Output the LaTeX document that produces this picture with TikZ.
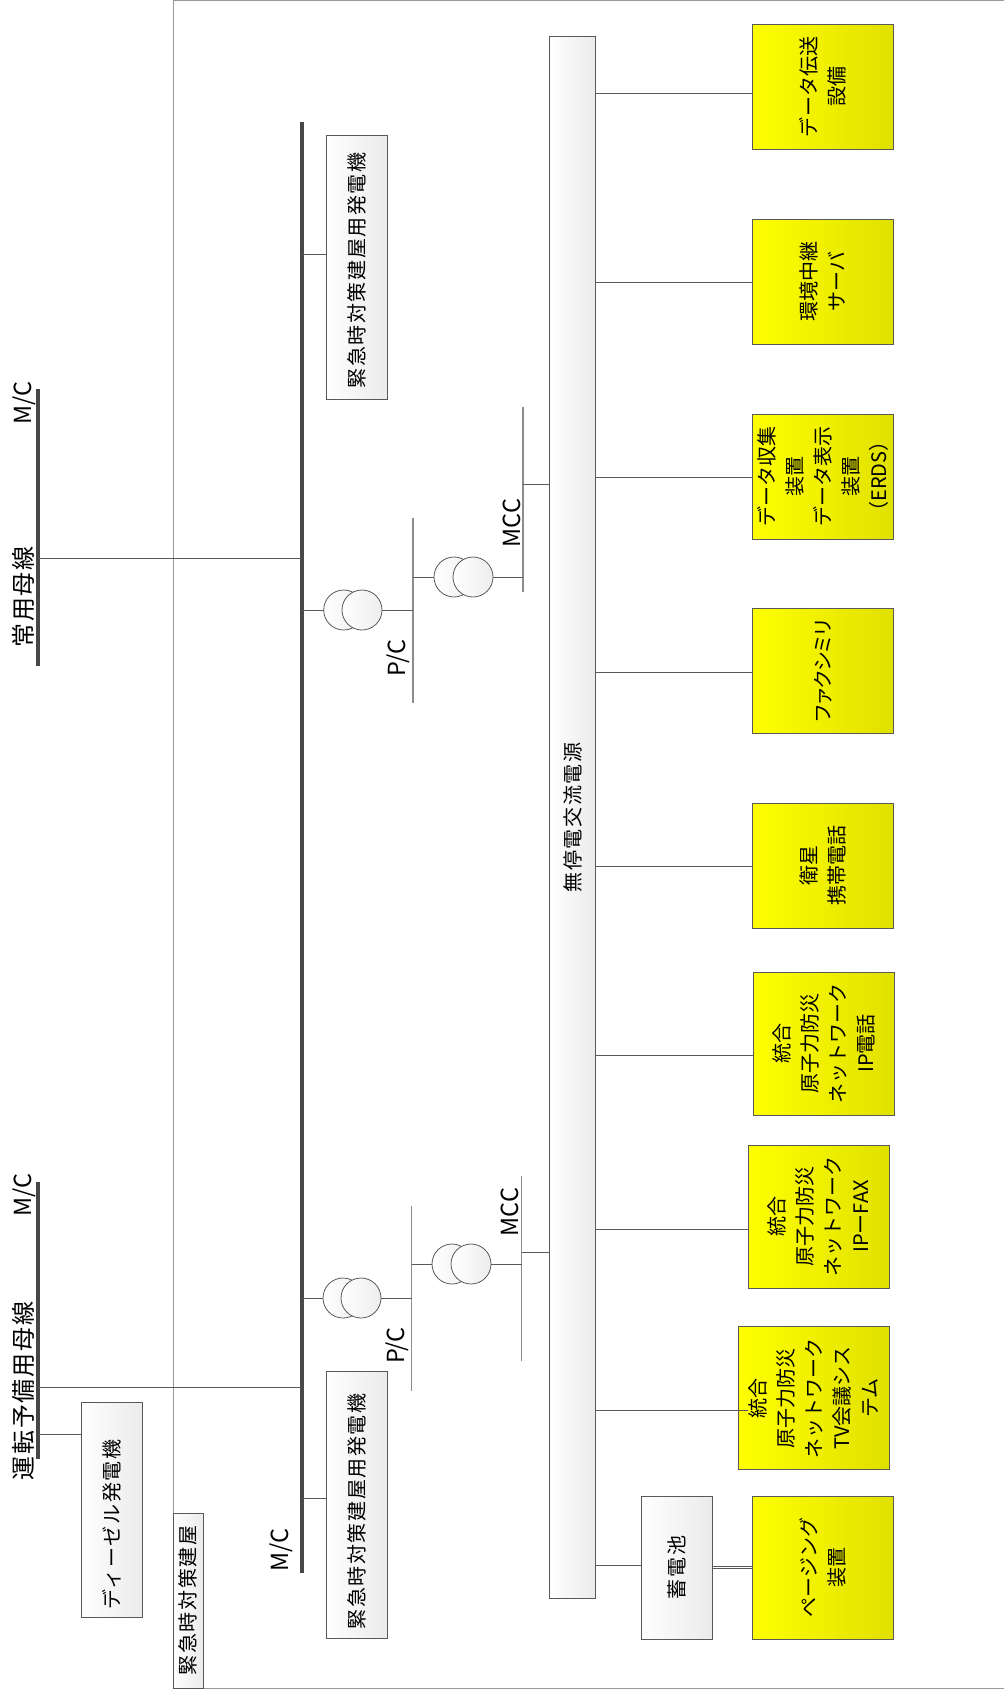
\documentclass[tikz,border=0pt]{standalone}
\usepackage{fontspec}
\setmainfont{Noto Sans CJK JP}
\newfontfamily\spacedcjk[LetterSpace=8]{Noto Sans CJK JP}
\newfontfamily\tightcjk[LetterSpace=-14]{Noto Sans CJK JP}
\tikzset{
	wire/.style={draw=black!65, line width=1pt},
	busbar/.style={fill=black!72, inner sep=0pt, outer sep=0pt, minimum width=3.4pt},
	subbar/.style={fill=black!45, inner sep=0pt, outer sep=0pt, minimum width=1.4pt},
	whitebox/.style={draw=black!65, line width=1pt, rotate=90, left color=white, right color=black!8, inner sep=0pt, outer sep=0pt, align=center, font=\spacedcjk\fontsize{20}{28}\selectfont},
	yellowbox/.style={draw=black!65, line width=1pt, rotate=90, left color=yellow, right color=yellow!88!black, inner sep=0pt, outer sep=0pt, align=center, font=\fontsize{20}{28}\selectfont},
	coil/.style={draw=black!65, circle, line width=0.8pt, minimum size=40pt, inner sep=0pt, outer sep=0pt, left color=white, right color=black!7},
	buslabel/.style={rotate=90, inner sep=0pt, font=\fontsize{23.5}{26}\selectfont},
	busname/.style={rotate=90, inner sep=0pt, font=\spacedcjk\fontsize{24}{26}\selectfont}
}
\begin{document}
\begin{tikzpicture}[x=1pt, y=-1pt]
	\useasboundingbox (0,0) rectangle (1004,1691);
	% building outline
	\draw[draw=black!40, line width=1pt] (1004,0.5) -- (173,0.5) -- (173,1688.5) -- (1004,1688.5);
	\node[whitebox, minimum width=175pt, minimum height=30pt] (bldg) at (188,1600.5) {緊急時対策建屋};

	% incoming buses
	\node[busbar, minimum height=277pt] (normbus) at (38,527.5) {};
	\node[busbar, minimum height=277pt] (sparebus) at (38,1320) {};
	\node[busname] (normname) at (23,597) {常用母線};
	\node[busname] (sparename) at (23,1391) {運転予備用母線};
	\node[buslabel] (normmc) at (24,403) {M/C};
	\node[buslabel] (sparemc) at (24,1195) {M/C};
	\node[whitebox, minimum width=215pt, minimum height=61pt] (diesel) at (112,1509.5) {ディーゼル発電機\hspace*{30pt}};

	% main bus
	\node[busbar, minimum height=1451pt] (mainbus) at (302,847.5) {};
	\node[buslabel] (mainmc) at (281,1550) {M/C};
	\node[whitebox, minimum width=263pt, minimum height=61pt] (genup) at (356.5,267.5) {緊急時対策建屋用発電機\hspace*{6pt}};
	\node[whitebox, minimum width=267pt, minimum height=61pt] (genlow) at (356.5,1505) {緊急時対策建屋用発電機\hspace*{13pt}};

	% upper feeder
	\node[coil] (tupa) at (343.7,610) {};
	\node[coil] (tupb) at (362,610) {};
	\node[subbar, minimum height=185pt] (pcup) at (413,610.5) {};
	\node[buslabel] (pcuplabel) at (398,658) {P/C};
	\node[coil] (tupc) at (454,577) {};
	\node[coil] (tupd) at (473,577) {};
	\node[subbar, minimum height=185pt] (mccup) at (523,499.5) {};
	\node[buslabel] (mccuplabel) at (512,523) {MCC};

	% lower feeder
	\node[coil] (tlowa) at (343,1298) {};
	\node[coil] (tlowb) at (361,1298) {};
	\node[subbar, minimum height=185pt] (pclow) at (411.5,1298.5) {};
	\node[buslabel] (pclowlabel) at (397,1345.5) {P/C};
	\node[coil] (tlowc) at (452,1264) {};
	\node[coil] (tlowd) at (471,1264) {};
	\node[subbar, minimum height=185pt] (mcclow) at (521.5,1268) {};
	\node[buslabel] (mcclowlabel) at (510,1212) {MCC};

	% UPS and battery
	\node[whitebox, minimum width=1561pt, minimum height=46pt] (ups) at (572.5,817.5) {無停電交流電源};
	\node[whitebox, minimum width=143pt, minimum height=71pt] (battery) at (676.5,1567.5) {蓄電池};

	% loads
	\node[yellowbox, minimum width=125pt, minimum height=141pt] (datatx) at (823,87) {データ伝送\\設備};
	\node[yellowbox, minimum width=125pt, minimum height=141pt] (envsrv) at (823,281.5) {環境中継\\サーバ};
	\node[yellowbox, minimum width=125pt, minimum height=141pt] (erds) at (823,476.5) {データ収集\\装置\\データ表示\\装置\\（ERDS）};
	\node[yellowbox, minimum width=125pt, minimum height=141pt] (fax) at (823,670.5) {\tightcjk ファクシミリ};
	\node[yellowbox, minimum width=125pt, minimum height=141pt] (satphone) at (823,865.5) {衛星\\携帯電話};
	\node[yellowbox, minimum width=143pt, minimum height=141pt] (ipphone) at (824,1043.5) {統合\\原子力防災\\ネットワーク\\IP電話};
	\node[yellowbox, minimum width=143pt, minimum height=141pt] (ipfax) at (818.5,1216.5) {統合\\原子力防災\\ネットワーク\\IPーFAX};
	\node[yellowbox, minimum width=143pt, minimum height=151pt] (tvconf) at (813.5,1398) {統合\\原子力防災\\ネットワーク\\TV会議シス\\テム};
	\node[yellowbox, minimum width=143pt, minimum height=141pt] (paging) at (823,1567.5) {ページング\\装置};

	% connectors
	\draw[wire] (normbus |- 0,558) -- (mainbus |- 0,558);
	\draw[wire] (sparebus |- 0,1387) -- (mainbus |- 0,1387);
	\draw[wire] (sparebus |- 0,1434) -- (diesel.north |- 0,1434);
	\draw[wire] (mainbus |- 0,254.5) -- (genup.north |- 0,254.5);
	\draw[wire] (mainbus |- 0,1498) -- (genlow.north |- 0,1498);
	\draw[wire] (mainbus |- tupa) -- (tupa.west);
	\draw[wire] (tupb.east) -- (pcup |- tupb);
	\draw[wire] (pcup |- tupc) -- (tupc.west);
	\draw[wire] (tupd.east) -- (mccup |- tupd);
	\draw[wire] (mccup |- 0,484) -- (ups.north |- 0,484);
	\draw[wire] (mainbus |- tlowa) -- (tlowa.west);
	\draw[wire] (tlowb.east) -- (pclow |- tlowb);
	\draw[wire] (pclow |- tlowc) -- (tlowc.west);
	\draw[wire] (tlowd.east) -- (mcclow |- tlowd);
	\draw[wire] (mcclow |- 0,1252.5) -- (ups.north |- 0,1252.5);
	\draw[wire] (ups.south |- 0,93.5) -- (datatx.north |- 0,93.5);
	\draw[wire] (ups.south |- 0,282.5) -- (envsrv.north |- 0,282.5);
	\draw[wire] (ups.south |- 0,477.5) -- (erds.north |- 0,477.5);
	\draw[wire] (ups.south |- 0,672) -- (fax.north |- 0,672);
	\draw[wire] (ups.south |- 0,866.5) -- (satphone.north |- 0,866.5);
	\draw[wire] (ups.south |- 0,1055.5) -- (ipphone.north |- 0,1055.5);
	\draw[wire] (ups.south |- 0,1229) -- (ipfax.north |- 0,1229);
	\draw[wire] (ups.south |- 0,1410) -- ([xshift=10pt]tvconf.north |- 0,1410);
	\draw[wire] (ups.south |- 0,1565) -- (battery.north |- 0,1565);
	\draw[wire] (battery.south |- 0,1566) -- (paging.north |- 0,1566);
	\draw[wire] (battery.south |- 0,1568.5) -- (paging.north |- 0,1568.5);
\end{tikzpicture}
\end{document}
